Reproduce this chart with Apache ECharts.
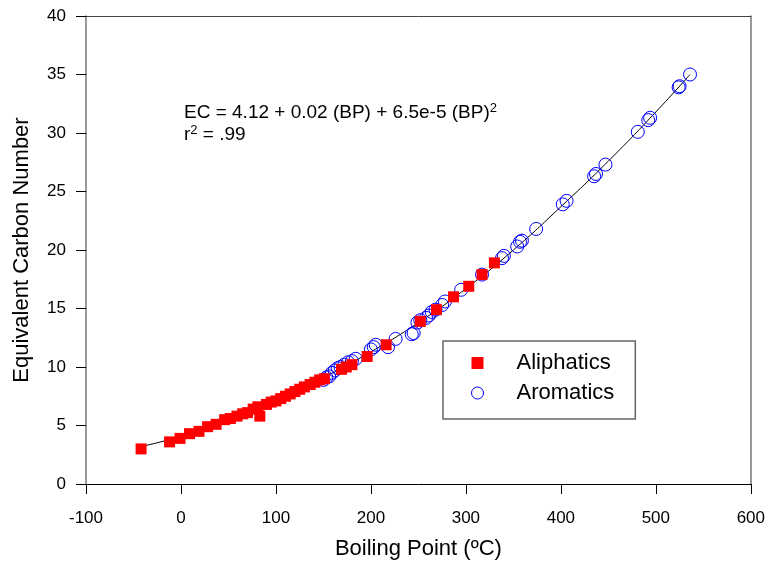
<!DOCTYPE html>
<html>
<head>
<meta charset="utf-8">
<script src="https://cdn.jsdelivr.net/npm/echarts@6/dist/echarts.min.js"></script>
<style>html,body{margin:0;padding:0;background:#fff}#c{width:768px;height:565px}</style>
</head>
<body>
<div id="c"></div>
<script>
const xTicks = [-100, 0, 100, 200, 300, 400, 500, 600];
const yTicks = [0, 5, 10, 15, 20, 25, 30, 35, 40];

const aliBP = [-42,-12,-1,9,19,28,37,46,52,59,65,70,76,81,83,90,95,100,105,110,115,120,125,130,136,141,146,151,169,174,180,196,216,252,269,287,303,317,330];
const aliEC = [3.0,3.6,3.9,4.3,4.5,4.9,5.1,5.5,5.6,5.8,6.0,6.1,6.4,6.6,5.8,6.8,7.0,7.1,7.3,7.5,7.7,7.9,8.1,8.3,8.5,8.7,8.9,9.0,9.8,10.0,10.2,10.9,11.9,13.9,14.9,16.0,16.9,17.9,18.9];

const aroBP = [150,153,156,159,162,165,168,172,176,180,184,200,203,205,218,226,243,245,249,252,258,261,264,268,275,278,295,317,338,340,354,357,359,374,402,406,435,437,447,481,492,494,524,525,536];
const aroEC = [8.9,9.1,9.2,9.5,9.7,9.9,10.0,10.2,10.4,10.5,10.7,11.5,11.7,11.9,11.7,12.4,12.8,12.9,13.8,14.0,14.2,14.4,14.7,14.9,15.3,15.6,16.6,17.9,19.3,19.5,20.3,20.7,20.8,21.8,23.9,24.2,26.3,26.5,27.3,30.1,31.1,31.3,33.9,34.0,35.0];

const fitBP = [-42,0,50,100,150,200,250,300,350,400,450,500,536];
const fitEC = [3.2,4.1,5.6,7.2,9.1,11.3,13.8,16.7,20.0,23.7,27.6,31.8,35.0];

const FONT = '"Liberation Sans", Arial, sans-serif';
const zip = (a, b) => a.map((v, i) => [v, b[i]]);

const chart = echarts.init(document.getElementById('c'), null, {renderer: 'canvas'});
chart.setOption({
  animation: false,
  backgroundColor: '#fff',
  grid: {left: 86, right: 15, top: 16, bottom: 80, containLabel: false},
  xAxis: [{
    type: 'value', min: xTicks[0], max: xTicks[xTicks.length - 1], interval: 100,
    position: 'bottom',
    axisLine: {show: true, onZero: false, lineStyle: {color: '#000', width: 1}},
    axisTick: {show: true, inside: false, length: 10, lineStyle: {color: '#000'}},
    axisLabel: {fontSize: 17, color: '#000', fontFamily: FONT, margin: 26},
    splitLine: {show: false},
    name: 'Boiling Point (ºC)', nameLocation: 'middle', nameGap: 54,
    nameTextStyle: {fontSize: 22, color: '#000', fontFamily: FONT}
  }, {
    type: 'value', min: xTicks[0], max: xTicks[xTicks.length - 1], interval: 100,
    position: 'top',
    axisLine: {show: true, onZero: false, lineStyle: {color: '#444', width: 1}},
    axisTick: {show: false}, axisLabel: {show: false}, splitLine: {show: false}
  }],
  yAxis: [{
    type: 'value', min: yTicks[0], max: yTicks[yTicks.length - 1], interval: 5,
    position: 'left',
    axisLine: {show: true, onZero: false, lineStyle: {color: '#777', width: 1.5}},
    axisTick: {show: true, inside: false, length: 10, lineStyle: {color: '#000'}},
    axisLabel: {fontSize: 17, color: '#000', fontFamily: FONT, margin: 20},
    splitLine: {show: false},
    name: 'Equivalent Carbon Number', nameLocation: 'middle', nameGap: 53, nameRotate: 90,
    nameTextStyle: {fontSize: 22, color: '#000', fontFamily: FONT}
  }, {
    type: 'value', min: yTicks[0], max: yTicks[yTicks.length - 1], interval: 5,
    position: 'right',
    axisLine: {show: true, onZero: false, lineStyle: {color: '#777', width: 1.5}},
    axisTick: {show: false}, axisLabel: {show: false}, splitLine: {show: false}
  }],
  legend: {
    orient: 'vertical', left: 443, top: 341,
    padding: [11, 21, 15, 28], itemGap: 8, itemWidth: 12, itemHeight: 12,
    borderColor: '#666', borderWidth: 1.5, backgroundColor: '#fff',
    textStyle: {fontSize: 22, color: '#000', fontFamily: FONT, lineHeight: 22, padding: [0, 0, 0, 28]},
    data: [
      {name: 'Aliphatics', icon: 'rect', itemStyle: {color: '#ff0000', borderWidth: 0}},
      {name: 'Aromatics', icon: 'circle', itemStyle: {color: 'rgba(0,0,0,0)', borderColor: '#0000ff', borderWidth: 1}}
    ]
  },
  graphic: [{
    type: 'text', left: 184, top: 102, silent: true,
    style: {
      text: '{a|EC = 4.12 + 0.02 (BP) + 6.5e-5 (BP)}{s|2}\n{a|r}{s|2}{a| = .99}',
      fill: '#000',
      rich: {
        a: {fontSize: 19, fontFamily: FONT, lineHeight: 22, fill: '#000'},
        s: {fontSize: 13, fontFamily: FONT, verticalAlign: 'top', lineHeight: 13, fill: '#000'}
      }
    }
  }],
  series: [{
    name: 'Fit', type: 'line', smooth: true, showSymbol: false, symbol: 'none',
    lineStyle: {color: '#000', width: 1}, data: zip(fitBP, fitEC), z: 1, silent: true
  }, {
    name: 'Aromatics', type: 'scatter', symbol: 'circle', symbolSize: 13,
    itemStyle: {color: 'rgba(0,0,0,0)', borderColor: '#0000ff', borderWidth: 1, opacity: 1},
    data: zip(aroBP, aroEC), z: 2
  }, {
    name: 'Aliphatics', type: 'scatter', symbol: 'rect', symbolSize: 11,
    itemStyle: {color: '#ff0000', opacity: 1},
    data: zip(aliBP, aliEC), z: 3
  }]
});
</script>
</body>
</html>
